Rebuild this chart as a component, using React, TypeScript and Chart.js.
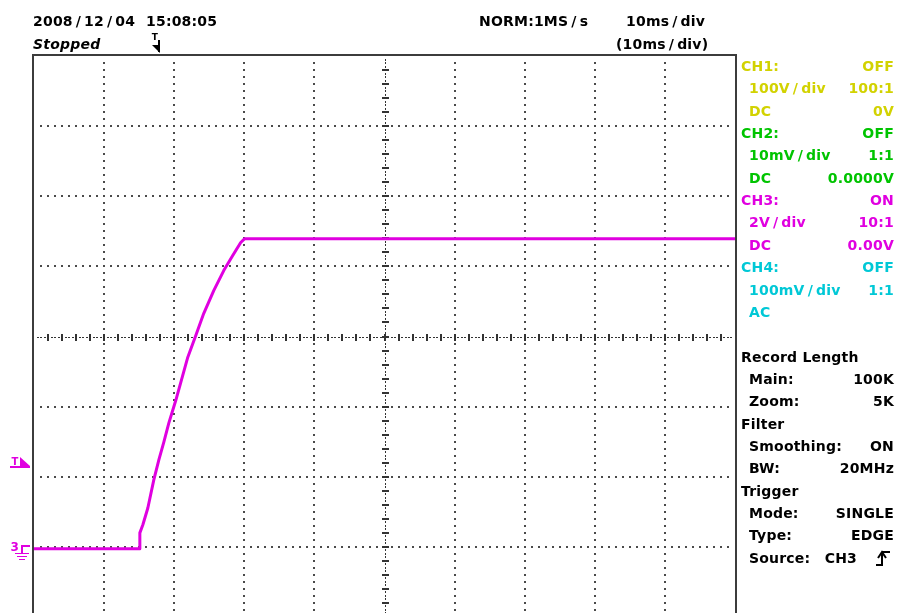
import React, { useEffect, useRef } from "react";
import { Chart, registerables } from "chart.js";

Chart.register(...registerables);

// CH3 acquisition: time in ms from the left edge of the screen, volts relative to ground
const traceTimeMs = [0, 15.1, 15.1, 15.53, 16.24, 17.09, 17.81, 18.52, 19.23, 20.23, 21.94, 23.08, 24.22, 25.64, 27.07, 28.35, 29.49, 30.06, 100];
const traceVolts = [-0.05, -0.05, 0.4, 0.63, 1.11, 1.91, 2.48, 2.99, 3.53, 4.18, 5.41, 6.03, 6.66, 7.31, 7.88, 8.31, 8.68, 8.79, 8.79];

// Screen: 10 horizontal divisions of 10 ms, 8 vertical divisions of 2 V
const timeAxisMs = [0, 100];
const voltAxis = [-2, 14];
const msPerDiv = 10;
const voltsPerDiv = 2;
const triggerTimeMs = 17.6;
const triggerLevelV = 2.3;
const groundLevelV = 0;

// Header readouts
const dateText = "2008/12/04";
const timeText = "15:08:05";
const statusText = "Stopped";
const sampleText = "NORM:1MS/s";
const timebaseText = "10ms/div";
const zoomTimebaseText = "(10ms/div)";

// Side panel rows
const panelLabels = ["CH1:", "100V/div", "DC", "CH2:", "10mV/div", "DC", "CH3:", "2V/div", "DC", "CH4:", "100mV/div", "AC", "", "Record Length", "Main:", "Zoom:", "Filter", "Smoothing:", "BW:", "Trigger", "Mode:", "Type:", "Source:"];
const panelValues = ["OFF", "100:1", "0V", "OFF", "1:1", "0.0000V", "ON", "10:1", "0.00V", "OFF", "1:1", "", "", "", "100K", "5K", "", "ON", "20MHz", "", "SINGLE", "EDGE", "CH3"];
const panelHeadings = ["CH1:", "CH2:", "CH3:", "CH4:", "Record Length", "Filter", "Trigger"];

const CH1_COLOR = "#d2d200";
const CH2_COLOR = "#00c400";
const CH3_COLOR = "#e000e0";
const CH4_COLOR = "#00c8d6";
const panelColors = [
  CH1_COLOR, CH1_COLOR, CH1_COLOR,
  CH2_COLOR, CH2_COLOR, CH2_COLOR,
  CH3_COLOR, CH3_COLOR, CH3_COLOR,
  CH4_COLOR, CH4_COLOR, CH4_COLOR,
];

const FONT = '"DejaVu Sans", "Liberation Sans", sans-serif';
const DOT_COLOR = "#4a4a4a";
const FRAME_COLOR = "#3c3c3c";

const scopeGraticule = {
  id: "scopeGraticule",
  beforeDatasetsDraw(chart: any) {
    const { ctx, scales } = chart;
    const x = scales.x;
    const y = scales.y;
    const px = (t: number) => x.getPixelForValue(t);
    const py = (v: number) => y.getPixelForValue(v);
    const dot = (a: number, b: number) => ctx.fillRect(Math.round(a) - 1, Math.round(b) - 1, 2, 2);
    const nx = Math.round((timeAxisMs[1] - timeAxisMs[0]) / msPerDiv);
    const ny = Math.round((voltAxis[1] - voltAxis[0]) / voltsPerDiv);
    const cx = nx / 2;
    const cy = ny / 2;
    ctx.save();
    ctx.fillStyle = DOT_COLOR;
    // dotted division lines, 10 dots per division
    for (let i = 1; i < nx; i++) {
      if (i === cx) continue;
      const t = timeAxisMs[0] + i * msPerDiv;
      for (let k = 1; k < ny * 10; k++) dot(px(t), py(voltAxis[0] + (k * voltsPerDiv) / 10));
    }
    for (let j = 1; j < ny; j++) {
      if (j === cy) continue;
      const v = voltAxis[0] + j * voltsPerDiv;
      for (let k = 1; k < nx * 10; k++) dot(px(timeAxisMs[0] + (k * msPerDiv) / 10), py(v));
    }
    // centre axes with finer dots and sub-division ticks
    const tc = timeAxisMs[0] + cx * msPerDiv;
    const vc = voltAxis[0] + cy * voltsPerDiv;
    ctx.fillStyle = "#333";
    for (let k = 1; k < nx * 20; k++) {
      const t = timeAxisMs[0] + (k * msPerDiv) / 20;
      if (k % 4 === 0) ctx.fillRect(Math.round(px(t)) - 1, Math.round(py(vc)) - 3, 2, 7);
      else ctx.fillRect(Math.round(px(t)) - 1, Math.round(py(vc)), 2, 1);
    }
    for (let k = 1; k < ny * 20; k++) {
      const v = voltAxis[0] + (k * voltsPerDiv) / 20;
      if (k % 4 === 0) ctx.fillRect(Math.round(px(tc)) - 3, Math.round(py(v)) - 1, 7, 2);
      else ctx.fillRect(Math.round(px(tc)), Math.round(py(v)) - 1, 1, 2);
    }
    ctx.restore();
  },
  afterDraw(chart: any) {
    const { ctx, chartArea: a, scales } = chart;
    const x = scales.x;
    const y = scales.y;
    ctx.save();
    // screen frame
    ctx.fillStyle = FRAME_COLOR;
    ctx.fillRect(a.left - 2, a.top - 2, 2, a.bottom - a.top + 4);
    ctx.fillRect(a.left - 2, a.top - 2, a.right - a.left + 4, 2);
    ctx.fillRect(a.right, a.top - 2, 2, a.bottom - a.top + 4);
    ctx.fillRect(a.left - 2, a.bottom, a.right - a.left + 4, 2);

    // trigger position marker above the screen
    const tx = Math.round(x.getPixelForValue(triggerTimeMs));
    ctx.fillStyle = "#000";
    ctx.font = `bold 9px ${FONT}`;
    ctx.textAlign = "center";
    ctx.textBaseline = "alphabetic";
    ctx.fillText("T", tx - 2, a.top - 16);
    ctx.fillRect(tx + 1, a.top - 16, 2, 12);
    ctx.beginPath();
    ctx.moveTo(tx - 5, a.top - 11);
    ctx.lineTo(tx + 3, a.top - 11);
    ctx.lineTo(tx + 3, a.top - 3);
    ctx.closePath();
    ctx.fill();

    // trigger level marker
    const ty = Math.round(y.getPixelForValue(triggerLevelV));
    ctx.fillStyle = CH3_COLOR;
    ctx.font = `bold 10px ${FONT}`;
    ctx.fillText("T", 15, ty - 1);
    ctx.fillRect(10, ty, 20, 2);
    ctx.beginPath();
    ctx.moveTo(20, ty - 9);
    ctx.lineTo(20, ty);
    ctx.lineTo(30, ty);
    ctx.closePath();
    ctx.fill();

    // CH3 ground marker
    const gy = Math.round(y.getPixelForValue(groundLevelV));
    ctx.font = `bold 12px ${FONT}`;
    ctx.textAlign = "right";
    ctx.textBaseline = "middle";
    ctx.fillText("3", 19, gy + 1);
    ctx.fillRect(21, gy - 2, 9, 2);
    ctx.fillRect(21, gy - 2, 2, 8);
    ctx.fillRect(15, gy + 6, 14, 1);
    ctx.fillRect(17, gy + 9, 10, 1);
    ctx.fillRect(19, gy + 12, 6, 1);
    ctx.restore();
  },
};

function SlashText({ text }: { text: string }) {
  const parts = text.split("/");
  return (
    <>
      {parts.map((p, i) => (
        <React.Fragment key={i}>
          {i > 0 && <span style={{ margin: "0 3px" }}>/</span>}
          {p}
        </React.Fragment>
      ))}
    </>
  );
}

const LINE0 = 66;
const LINE_STEP = 22.35;

function Label({ left, right, center, color, children, italic }: any) {
  const style: React.CSSProperties = {
    position: "absolute",
    top: center - 9,
    height: 18,
    lineHeight: "18px",
    color: color || "#000",
    whiteSpace: "nowrap",
    fontStyle: italic ? "oblique" : "normal",
  };
  if (left !== undefined) style.left = left;
  if (right !== undefined) style.right = right;
  return <div style={style}>{children}</div>;
}

export default function App() {
  const canvasRef = useRef<HTMLCanvasElement>(null);

  useEffect(() => {
    const canvas = canvasRef.current;
    if (!canvas) return;
    const points = traceTimeMs.map((t, i) => ({ x: t, y: traceVolts[i] }));
    const chart = new Chart(canvas, {
      type: "line",
      data: {
        datasets: [
          {
            label: "CH3",
            data: points,
            borderColor: CH3_COLOR,
            backgroundColor: CH3_COLOR,
            borderWidth: 3,
            pointRadius: 0,
            tension: 0,
            borderJoinStyle: "round",
            fill: false,
          },
        ],
      },
      options: {
        responsive: false,
        animation: false,
        devicePixelRatio: 1,
        events: [],
        layout: { padding: { left: 34, top: 56, right: 163, bottom: 8 } },
        scales: {
          x: { type: "linear", min: timeAxisMs[0], max: timeAxisMs[1], display: false },
          y: { type: "linear", min: voltAxis[0], max: voltAxis[1], display: false },
        },
        plugins: { legend: { display: false }, tooltip: { enabled: false } },
      },
      plugins: [scopeGraticule],
    });
    return () => chart.destroy();
  }, []);

  return (
    <div
      style={{
        position: "absolute",
        left: 0,
        top: 0,
        width: 898,
        height: 613,
        overflow: "hidden",
        background: "#fff",
        fontFamily: FONT,
        fontWeight: "bold",
        fontSize: 14,
        letterSpacing: "0.2px",
      }}
    >
      <canvas ref={canvasRef} width={898} height={625} style={{ position: "absolute", left: 0, top: 0 }} />

      <Label left={33} center={21}><SlashText text={dateText} /></Label>
      <Label left={146} center={21}>{timeText}</Label>
      <Label left={33} center={44} italic>{statusText}</Label>
      <Label left={479} center={21}><SlashText text={sampleText} /></Label>
      <Label left={626} center={21}><SlashText text={timebaseText} /></Label>
      <Label left={616} center={44}><SlashText text={zoomTimebaseText} /></Label>

      {panelLabels.map((lab, i) => {
        if (!lab) return null;
        const center = LINE0 + i * LINE_STEP;
        const heading = panelHeadings.includes(lab);
        const color = panelColors[i] || "#000";
        const value = panelValues[i];
        const isSource = lab === "Source:";
        return (
          <React.Fragment key={i}>
            <Label left={heading ? 741 : 749} center={center} color={color}>
              <SlashText text={lab} />
            </Label>
            {value && (
              <Label right={isSource ? 41 : 4} center={center} color={color}>
                {value}
              </Label>
            )}
          </React.Fragment>
        );
      })}

      <svg
        width={16}
        height={18}
        style={{ position: "absolute", left: 875, top: LINE0 + 22 * LINE_STEP - 9 }}
      >
        <path d="M1 16 H7 V4 M7 3 H15" stroke="#000" strokeWidth={2} fill="none" />
        <path d="M3 9 L7 3 L11 9" stroke="#000" strokeWidth={2} fill="none" />
      </svg>
    </div>
  );
}
